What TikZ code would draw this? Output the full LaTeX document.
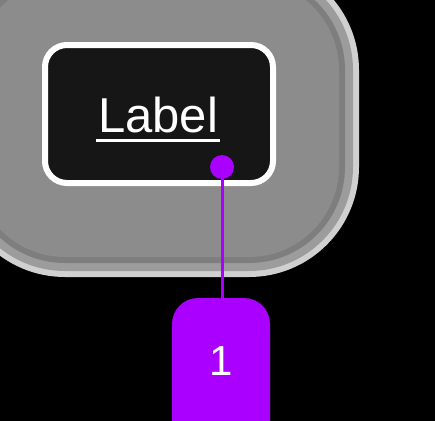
\documentclass[tikz,border=0pt]{standalone}
\usepackage{fontspec}
\setmainfont{Liberation Sans}
\definecolor{purp}{HTML}{AA00FF}
\definecolor{boxfill}{HTML}{161616}
\definecolor{glowA}{HTML}{D0D0D0}
\definecolor{glowB}{HTML}{9C9C9C}
\definecolor{glowC}{HTML}{7E7E7E}
\definecolor{glowD}{HTML}{8C8C8C}
\tikzset{
  boxstyle/.style={draw=white, line width=6pt, fill=boxfill, rounded corners=22pt},
  purpdot/.style={circle, fill=purp, inner sep=0pt, minimum size=24pt},
  badgestyle/.style={fill=purp, rounded corners=26pt},
  conn/.style={draw=purp, line width=3pt}
}
\begin{document}
\begin{tikzpicture}[x=1pt,y=-1pt]
\useasboundingbox (0,0) rectangle (435,420);
\fill[black] (-20,-20) rectangle (455,440);
\clip (0,0) rectangle (435,420);
% glow halo
\fill[glowA, rounded corners=110pt] (-45,-40) rectangle (359,277);
\fill[glowB, rounded corners=104pt] (-39,-34) rectangle (353,271);
\fill[glowC, rounded corners=96pt] (-31,-26) rectangle (345,263);
\fill[glowD, rounded corners=90pt] (-25,-20) rectangle (339,257);
% main box
\draw[boxstyle] (45,45) rectangle (273,183);
\coordinate (box) at (159,114);
\node[anchor=base, text=white, font=\fontsize{49}{49}\selectfont, inner sep=0pt] (label) at (158,132) {Label};
\draw[white, line width=3pt] (96,140) -- (220,140);
% badge
\fill[badgestyle] (172,298) rectangle (270,460);
\coordinate (badge) at (222,299);
\node[anchor=base, text=white, font=\fontsize{42}{42}\selectfont, inner sep=0pt] (one) at (221,375) {1};
% connector
\node[purpdot] (dot) at (222,167) {};
\draw[conn] (dot.center) -- (badge);
\end{tikzpicture}
\end{document}
